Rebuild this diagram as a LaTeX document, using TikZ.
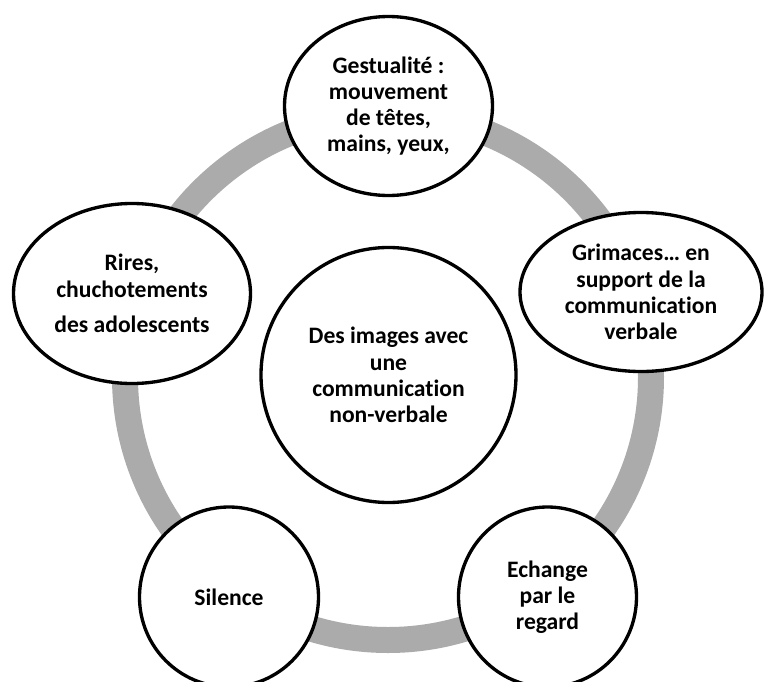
\documentclass[tikz,border=0pt]{standalone}
\usepackage{fontspec}
\setmainfont{Carlito}[Ligatures=NoCommon]
\usetikzlibrary{shapes.geometric}

\begin{document}
\begin{tikzpicture}[x=0.75pt,y=-0.75pt,
  blob/.style 2 args={ellipse,draw=black,line width=2.5pt,fill=white,inner sep=0pt,
    minimum width=#1*0.75pt,minimum height=#2*0.75pt,align=center,
    font=\bfseries\fontsize{17.7pt}{19.7pt}\selectfont},
  ring/.style={draw=black!33,line width=19.5pt}]
\useasboundingbox (0,0) rectangle (765,682);

\coordinate (mid) at (388,377);
\draw[ring] (mid) circle[radius=197.25pt];

\node[blob={255}{255}] (centre) at (388.5,375) {Des images avec\\une\\communication\\non-verbale};

\node[blob={208}{179}] (gest) at (388.5,106) {Gestualité :\\mouvement\\de têtes,\\mains, yeux,};
\node[blob={242}{159}] (grim) at (641,292) {Grimaces… en\\support de la\\communication\\verbale};
\node[blob={178}{180}] (regard) at (547.5,597) {Echange\\par le\\regard};
\node[blob={179}{180}] (silence) at (229,597) {Silence};
\node[blob={237}{180}] (rires) at (132,293.5) {Rires,\\chuchotements\\[6.75pt]des adolescents};
\end{tikzpicture}
\end{document}
